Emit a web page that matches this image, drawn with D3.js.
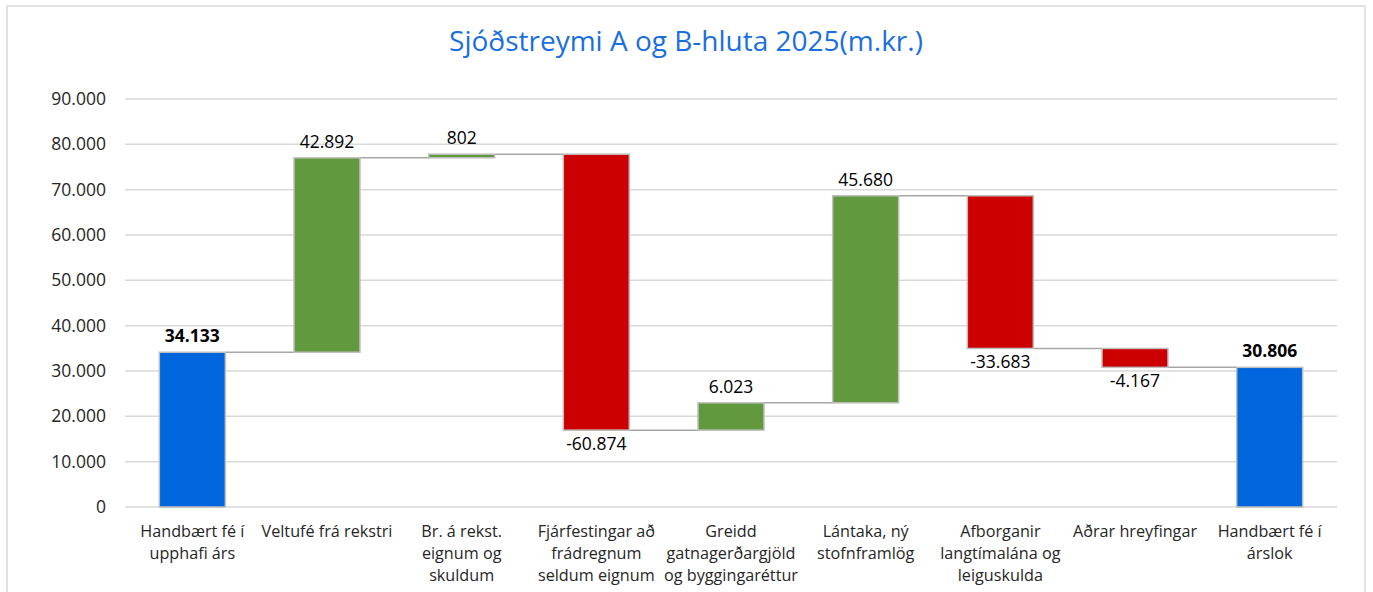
<!DOCTYPE html>
<html><head><meta charset="utf-8">
<script src="https://cdn.jsdelivr.net/npm/d3@7"></script>
<style>
html,body{margin:0;padding:0;background:#fff;}
svg{display:block;font-family:"Open Sans","Noto Sans",sans-serif;}
</style></head>
<body>
<svg id="chart" width="1373" height="592"></svg>
<script>
const categories = [
  ["Handbært fé í","upphafi árs"],
  ["Veltufé frá rekstri"],
  ["Br. á rekst.","eignum og","skuldum"],
  ["Fjárfestingar að","frádregnum","seldum eignum"],
  ["Greidd","gatnagerðargjöld","og byggingaréttur"],
  ["Lántaka, ný","stofnframlög"],
  ["Afborganir","langtímalána og","leiguskulda"],
  ["Aðrar hreyfingar"],
  ["Handbært fé í","árslok"]
];
const values = [34133, 42892, 802, -60874, 6023, 45680, -33683, -4167, 30806];
const isTotal = [true, false, false, false, false, false, false, false, true];
const yTicks = [0,10000,20000,30000,40000,50000,60000,70000,80000,90000];
const title = "Sjóðstreymi A og B-hluta 2025(m.kr.)";

const colors = {total:"#0066DD", up:"#62993E", down:"#CC0000"};

const svg = d3.select("#chart");
const plot = {left:125, right:1337, top:99, bottom:507};

// frame
svg.append("rect").attr("x",7).attr("y",6).attr("width",1358).attr("height",600)
  .attr("fill","#fff").attr("stroke","#d9d9d9").attr("stroke-width",1.5);

svg.append("text").attr("x",686).attr("y",51).attr("text-anchor","middle")
  .attr("fill","#1a6fe0").attr("font-size",28).text(title);

const x = d3.scaleBand().domain(d3.range(categories.length)).range([plot.left,plot.right]).paddingInner(0.51).paddingOuter(0.255);
const y = d3.scaleLinear().domain([0,90000]).range([plot.bottom,plot.top]);

const fmt = v => d3.format(",")(v).replace(/,/g,".").replace("−","-");

// grid
svg.append("g").selectAll("line").data(yTicks).join("line")
  .attr("x1",plot.left).attr("x2",plot.right)
  .attr("y1",d=>y(d)).attr("y2",d=>y(d))
  .attr("stroke","#d9d9d9").attr("stroke-width",1.5);

// y axis labels
const yAxis = d3.axisLeft(y).tickValues(yTicks).tickSize(0).tickPadding(19).tickFormat(fmt);
const gy = svg.append("g").attr("transform",`translate(${plot.left},0)`).call(yAxis);
gy.select(".domain").remove();
gy.selectAll("text").attr("font-size",17.5).attr("fill","#262626").attr("font-family","'Open Sans','Noto Sans',sans-serif");

// waterfall computation
let run = 0;
const bars = values.map((v,i)=>{
  let b0, b1;
  if(isTotal[i]){ b0=0; b1=v; run=v; }
  else { b0=run; b1=run+v; run=b1; }
  return {i, v, lo:Math.min(b0,b1), hi:Math.max(b0,b1), end:b1};
});

// connectors
const conn = svg.append("g");
for(let i=0;i<bars.length-1;i++){
  conn.append("line")
    .attr("x1",x(i)+x.bandwidth()).attr("x2",x(i+1))
    .attr("y1",y(bars[i].end)).attr("y2",y(bars[i].end))
    .attr("stroke","#a6a6a6").attr("stroke-width",1.5);
}

svg.append("g").selectAll("rect").data(bars).join("rect")
  .attr("x",d=>x(d.i)).attr("width",x.bandwidth())
  .attr("y",d=>y(d.hi)).attr("height",d=>Math.max(1.5,y(d.lo)-y(d.hi)))
  .attr("fill",d=>isTotal[d.i]?colors.total:(d.v>=0?colors.up:colors.down))
  .attr("stroke","#bfbfbf").attr("stroke-width",1.5);

// value labels
svg.append("g").selectAll("text").data(bars).join("text")
  .attr("x",d=>x(d.i)+x.bandwidth()/2)
  .attr("y",d=> d.v>=0 ? y(d.hi)-10 : y(d.lo)+20)
  .attr("text-anchor","middle").attr("font-size",17.5)
  .attr("font-weight",d=>isTotal[d.i]?"bold":"normal")
  .attr("fill","#000").text(d=>fmt(d.v));

// x labels
const xl = svg.append("g").selectAll("text").data(categories).join("text")
  .attr("text-anchor","middle").attr("font-size",16.2).attr("fill","#262626")
  .attr("transform",(d,i)=>`translate(${x(i)+x.bandwidth()/2},0)`);
xl.selectAll("tspan").data(d=>d).join("tspan")
  .attr("x",0).attr("y",(d,j)=>537+j*22).text(d=>d);
</script>
</body></html>
